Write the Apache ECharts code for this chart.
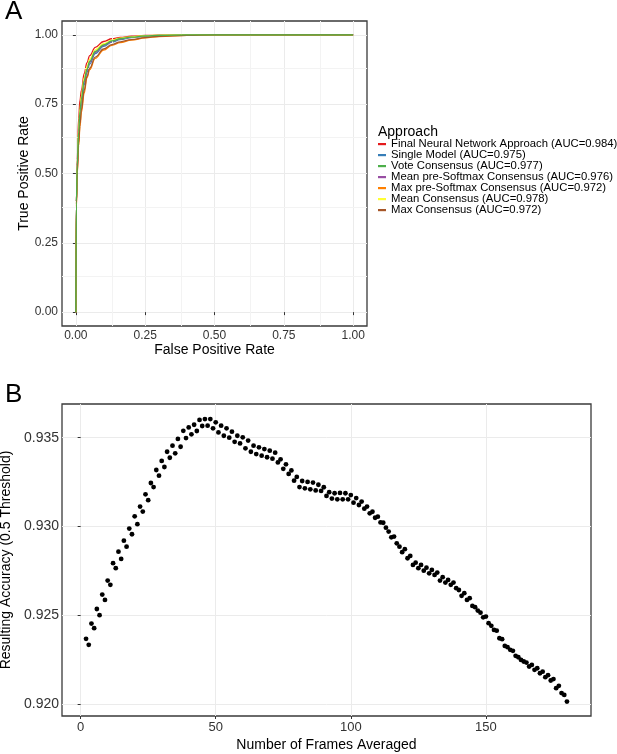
<!DOCTYPE html>
<html>
<head>
<meta charset="utf-8">
<script src="https://cdn.jsdelivr.net/npm/echarts@6/dist/echarts.min.js"></script>
<style>
  html, body { margin: 0; padding: 0; background: #fff; }
  #main { width: 617px; height: 754px; }
</style>
</head>
<body>
<div id="main"></div>
<script>
// ---- panel A: ROC curves ----
var fprGrid = [0, 0.002, 0.005, 0.01, 0.015, 0.02, 0.03, 0.04, 0.05, 0.07, 0.1, 0.13, 0.16, 0.2, 0.25, 0.3, 0.4, 0.5, 1]
var tprFinal  = [0, 0.40, 0.55, 0.70, 0.765, 0.80, 0.86, 0.90, 0.925, 0.955, 0.976, 0.986, 0.991, 0.995, 0.998, 0.999, 1, 1, 1]
var tprSingle = [0, 0.40, 0.52, 0.635, 0.71, 0.755, 0.82, 0.865, 0.895, 0.932, 0.959, 0.974, 0.983, 0.990, 0.995, 0.998, 1, 1, 1]
var tprVote   = [0, 0.40, 0.53, 0.65, 0.725, 0.77, 0.835, 0.876, 0.905, 0.940, 0.964, 0.978, 0.986, 0.992, 0.996, 0.998, 1, 1, 1]
var tprMeanPre = [0, 0.40, 0.525, 0.645, 0.72, 0.765, 0.83, 0.872, 0.902, 0.937, 0.962, 0.976, 0.985, 0.991, 0.996, 0.998, 1, 1, 1]
var tprMaxPre = [0, 0.38, 0.50, 0.60, 0.67, 0.72, 0.79, 0.845, 0.875, 0.915, 0.945, 0.962, 0.972, 0.981, 0.989, 0.994, 0.998, 1, 1]
var tprMean   = [0, 0.40, 0.535, 0.66, 0.735, 0.78, 0.845, 0.885, 0.912, 0.946, 0.968, 0.981, 0.988, 0.993, 0.997, 0.999, 1, 1, 1]
var tprMax    = [0, 0.39, 0.505, 0.61, 0.68, 0.73, 0.80, 0.85, 0.88, 0.92, 0.949, 0.965, 0.975, 0.983, 0.990, 0.995, 0.998, 1, 1]
var approachNames = [
  'Final Neural Network Approach (AUC=0.984)',
  'Single Model (AUC=0.975)',
  'Vote Consensus (AUC=0.977)',
  'Mean pre-Softmax Consensus (AUC=0.976)',
  'Max pre-Softmax Consensus (AUC=0.972)',
  'Mean Consensus (AUC=0.978)',
  'Max Consensus (AUC=0.972)'
]
var approachColors = ['#E41A1C', '#377EB8', '#4DAF4A', '#984EA3', '#FF7F00', '#FFFF33', '#A65628']
var tprSets = [tprFinal, tprSingle, tprVote, tprMeanPre, tprMaxPre, tprMean, tprMax]
var rateTicks = [0, 0.25, 0.5, 0.75, 1]
var rateMinor = [0.125, 0.375, 0.625, 0.875]

// ---- panel B: accuracy vs frames averaged (frames 2..180) ----
var firstFrame = 2
var accuracy = [
  0.92367, 0.92333, 0.92453, 0.92427, 0.92535, 0.92500, 0.92616, 0.92586, 0.92695, 0.92671,
  0.92793, 0.92765, 0.92858, 0.92817, 0.92920, 0.92886, 0.92988, 0.92956, 0.93057, 0.93013,
  0.93112, 0.93084, 0.93181, 0.93148, 0.93245, 0.93222, 0.93318, 0.93286, 0.93369, 0.93335,
  0.93421, 0.93387, 0.93455, 0.93412, 0.93493, 0.93449, 0.93539, 0.93498, 0.93558, 0.93519,
  0.93573, 0.93538, 0.93600, 0.93566, 0.93605, 0.93568, 0.93605, 0.93553, 0.93587, 0.93530,
  0.93568, 0.93511, 0.93553, 0.93500, 0.93534, 0.93477, 0.93511, 0.93468, 0.93502, 0.93440,
  0.93484, 0.93421, 0.93455, 0.93408, 0.93446, 0.93399, 0.93436, 0.93390, 0.93427, 0.93382,
  0.93416, 0.93361, 0.93378, 0.93325, 0.93350, 0.93296, 0.93316, 0.93258, 0.93279, 0.93222,
  0.93256, 0.93215, 0.93251, 0.93209, 0.93247, 0.93203, 0.93235, 0.93200, 0.93221, 0.93172,
  0.93193, 0.93157, 0.93187, 0.93153, 0.93189, 0.93153, 0.93187, 0.93153, 0.93177, 0.93134,
  0.93160, 0.93121, 0.93140, 0.93100, 0.93112, 0.93074, 0.93083, 0.93049, 0.93055, 0.93023,
  0.93021, 0.92993, 0.92971, 0.92939, 0.92943, 0.92905, 0.92886, 0.92855, 0.92872, 0.92821,
  0.92834, 0.92783, 0.92796, 0.92765, 0.92783, 0.92751, 0.92768, 0.92736, 0.92755, 0.92727,
  0.92740, 0.92695, 0.92714, 0.92684, 0.92699, 0.92671, 0.92684, 0.92652, 0.92642, 0.92609,
  0.92624, 0.92586, 0.92596, 0.92552, 0.92545, 0.92526, 0.92514, 0.92488, 0.92492, 0.92455,
  0.92440, 0.92417, 0.92413, 0.92370, 0.92365, 0.92327, 0.92320, 0.92305, 0.92299, 0.92271,
  0.92263, 0.92248, 0.92239, 0.92233, 0.92211, 0.92220, 0.92192, 0.92201, 0.92173, 0.92182,
  0.92151, 0.92162, 0.92132, 0.92140, 0.92089, 0.92102, 0.92061, 0.92051, 0.92013
]
var frameTicks = [0, 50, 100, 150]
var accTicks = [0.920, 0.925, 0.930, 0.935]

var FONT = 'Liberation Sans, Arial, sans-serif'
var gridColor = '#ebebeb'

function axisBase(ticks, fmt, size, margin) {
  return {
    axisLine: { show: false },
    axisTick: { show: true, length: 3, customValues: ticks, lineStyle: { color: '#333', width: 1 } },
    axisLabel: { customValues: ticks, formatter: fmt, fontSize: size, color: '#333', margin: margin, fontFamily: FONT },
    splitLine: { show: true, lineStyle: { color: gridColor, width: 1 } },
    nameTextStyle: { fontSize: 14, color: '#000', fontFamily: FONT }
  }
}

var myChart = echarts.init(document.getElementById('main'), null, { renderer: 'canvas' })

var series = []
// minor grid lines of panel A
series.push({
  type: 'line', xAxisIndex: 0, yAxisIndex: 0, data: [], z: 0, silent: true,
  markLine: {
    silent: true, symbol: 'none', label: { show: false }, animation: false,
    lineStyle: { color: '#f3f3f3', width: 1, type: 'solid' },
    data: rateMinor.map(function (v) { return { xAxis: v } })
      .concat(rateMinor.map(function (v) { return { yAxis: v } }))
  }
})
// draw order: green on top
var drawOrder = [0, 1, 3, 4, 5, 6, 2]
drawOrder.forEach(function (k, n) {
  series.push({
    name: approachNames[k],
    type: 'line',
    xAxisIndex: 0, yAxisIndex: 0,
    data: fprGrid.map(function (f, i) { return [f, tprSets[k][i]] }),
    smooth: 0.4, smoothMonotone: 'x',
    showSymbol: false,
    lineStyle: { color: approachColors[k], width: 1.3 },
    itemStyle: { color: approachColors[k] },
    z: 2 + n
  })
})
series.push({
  type: 'scatter',
  xAxisIndex: 1, yAxisIndex: 1,
  data: accuracy.map(function (v, i) { return [firstFrame + i, v] }),
  symbolSize: 4.8,
  itemStyle: { color: '#000', opacity: 1 }
})

var option = {
  animation: false,
  textStyle: { fontFamily: FONT },
  title: [
    { text: 'A', left: 5, top: -1, padding: 0, textStyle: { fontSize: 26, fontWeight: 'normal', color: '#000', fontFamily: FONT } },
    { text: 'B', left: 5, top: 381.5, padding: 0, textStyle: { fontSize: 26, fontWeight: 'normal', color: '#000', fontFamily: FONT } },
    { text: 'Approach', left: 378, top: 125, padding: 0, textStyle: { fontSize: 14, fontWeight: 'normal', color: '#000', fontFamily: FONT } }
  ],
  legend: {
    data: approachNames,
    orient: 'vertical',
    left: 378, top: 138.6,
    padding: 0,
    itemGap: 0,
    itemWidth: 8, itemHeight: 2.2,
    icon: 'rect',
    selectedMode: false,
    textStyle: { fontSize: 11.3, lineHeight: 10.8, color: '#000', fontFamily: FONT }
  },
  grid: [
    { left: 62, top: 21, width: 305, height: 305, show: true, borderColor: '#3a3a3a', borderWidth: 1.3, containLabel: false, outerBoundsMode: 'none' },
    { left: 62, top: 404, width: 529, height: 312, show: true, borderColor: '#3a3a3a', borderWidth: 1.3, containLabel: false, outerBoundsMode: 'none' }
  ],
  xAxis: [
    Object.assign(axisBase(rateTicks, function (v) { return v.toFixed(2) }, 12, 4), {
      type: 'value', gridIndex: 0, min: -0.05, max: 1.05,
      name: 'False Positive Rate', nameLocation: 'middle', nameGap: 15
    }),
    Object.assign(axisBase(frameTicks, function (v) { return String(v) }, 13, 4.5), {
      type: 'value', gridIndex: 1, min: -6.9, max: 188.9,
      name: 'Number of Frames Averaged', nameLocation: 'middle', nameGap: 22
    })
  ],
  yAxis: [
    Object.assign(axisBase(rateTicks, function (v) { return v.toFixed(2) }, 12, 4), {
      type: 'value', gridIndex: 0, min: -0.05, max: 1.05,
      name: 'True Positive Rate', nameLocation: 'middle', nameGap: 27
    }),
    Object.assign(axisBase(accTicks, function (v) { return v.toFixed(3) }, 14, 3), {
      type: 'value', gridIndex: 1, min: 0.91932, max: 0.9369,
      name: 'Resulting Accuracy (0.5 Threshold)', nameLocation: 'middle', nameGap: 48
    })
  ],
  series: series
}

myChart.setOption(option)
</script>
</body>
</html>
